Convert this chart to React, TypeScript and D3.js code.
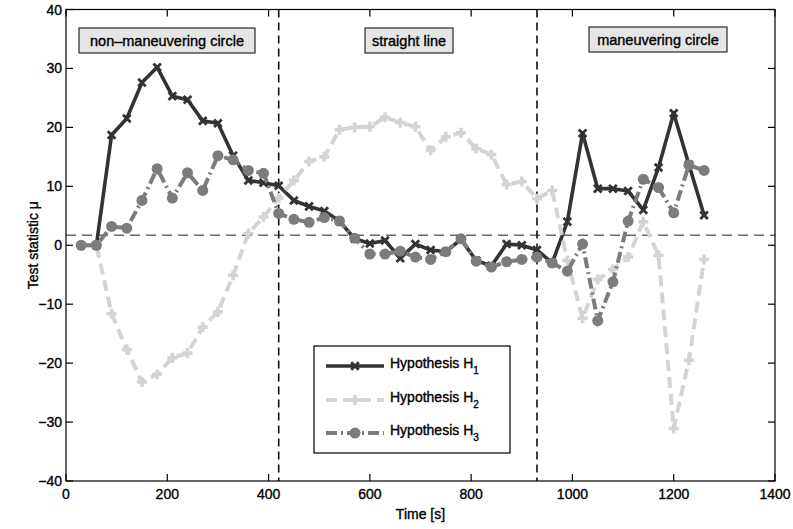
import React from "react";
import * as d3 from "d3";

const times1 = [60,90,120,150,180,210,240,270,300,330,360,390,420,450,480,510,540,570,600,630,660,690,720,750,780,810,840,870,900,930,960,990,1020,1050,1080,1110,1140,1170,1200,1230,1260];
const h1 = [0,18.7,21.5,27.6,30.2,25.3,24.7,21.1,20.7,15.2,11.0,10.6,10.1,7.6,6.6,5.8,4.1,1.1,0.3,0.8,-2.2,0.2,-0.8,-1.1,1.0,-2.6,-3.5,0.2,0.0,-0.8,-3.0,4.0,19.0,9.6,9.6,9.2,6.0,13.2,22.4,13.7,5.1];

const times23 = [30,60,90,120,150,180,210,240,270,300,330,360,390,420,450,480,510,540,570,600,630,660,690,720,750,780,810,840,870,900,930,960,990,1020,1050,1080,1110,1140,1170,1200,1230,1260];
const h2 = [0,0,-11.6,-17.7,-23.2,-21.9,-19.1,-18.3,-13.9,-11.3,-5.1,2.0,4.8,8.0,11.0,14.2,15.0,19.6,20.0,20.1,21.7,20.8,20.1,16.1,18.4,19.1,16.4,15.4,10.3,10.8,7.9,9.3,-2.6,-12.4,-5.8,-4.1,-2.0,4.0,-1.7,-31.1,-19.5,-2.4];
const h3 = [0,0,3.2,2.9,7.6,13.0,8.0,12.3,9.3,15.2,14.5,12.7,12.2,5.4,4.4,3.9,4.7,4.1,1.2,-1.5,-1.5,-1.0,-2.0,-2.4,-1.1,1.1,-2.7,-3.7,-2.8,-2.4,-2.0,-3.0,-4.4,0.2,-12.8,-6.2,4.1,11.2,9.8,5.5,13.6,12.7];

const xTicks = [0,200,400,600,800,1000,1200,1400];
const yTicks = [-40,-30,-20,-10,0,10,20,30,40];
const threshold = 1.7;
const phaseBounds = [420, 930];
const phaseLabels = ["non\u2013maneuvering circle", "straight line", "maneuvering circle"];
const legendLabels = ["Hypothesis H", "Hypothesis H", "Hypothesis H"];
const legendSubs = ["1", "2", "3"];

const W = 793, H = 529;
const L = 66, R = 775, T = 9.5, B = 481;
const FONT = "'Liberation Sans', Arial, Helvetica, sans-serif";

export default function App() {
  const x = d3.scaleLinear().domain([0, 1400]).range([L, R]);
  const y = d3.scaleLinear().domain([-40, 40]).range([B, T]);
  const line = d3.line<[number, number]>().x(d => x(d[0])).y(d => y(d[1]));
  const p1 = times1.map((t, i) => [t, h1[i]] as [number, number]);
  const p2 = times23.map((t, i) => [t, h2[i]] as [number, number]);
  const p3 = times23.map((t, i) => [t, h3[i]] as [number, number]);

  const c1 = "#333333", c2 = "#d4d4d4", c3 = "#7c7c7c";

  const xMark = (cx: number, cy: number, k: string, col: string, s = 3.8) => (
    <g key={k} stroke={col} strokeWidth={2.8}>
      <line x1={cx - s} y1={cy - s} x2={cx + s} y2={cy + s} />
      <line x1={cx - s} y1={cy + s} x2={cx + s} y2={cy - s} />
    </g>
  );
  const plusMark = (cx: number, cy: number, k: string, col: string, s = 5) => (
    <g key={k} stroke={col} strokeWidth={3.6}>
      <line x1={cx - s} y1={cy} x2={cx + s} y2={cy} />
      <line x1={cx} y1={cy - s} x2={cx} y2={cy + s} />
    </g>
  );

  const boxX = [79, 365, 589];
  const boxY = [28, 28, 27];
  const boxW = [176, 88, 138];

  const legX = 314, legY = 346, legW = 196, legH = 107;
  const legRows = [366, 400, 433];
  const txt = { fill: "#000", stroke: "#000", strokeWidth: 0.35 };

  return (
    <svg width={W} height={H} style={{ position: "absolute", left: 0, top: 0, background: "#fff" }} fontFamily={FONT}>
      <defs>
        <clipPath id="plotclip">
          <rect x={L} y={T} width={R - L} height={B - T} />
        </clipPath>
      </defs>
      <rect x={0} y={0} width={W} height={H} fill="#fff" />

      <line x1={L} x2={R} y1={y(threshold)} y2={y(threshold)} stroke="#666" strokeWidth={1.6} strokeDasharray="10,6" />
      {phaseBounds.map((b, i) => (
        <line key={"vb" + i} x1={x(b)} x2={x(b)} y1={T} y2={B} stroke="#111" strokeWidth={1.6} strokeDasharray="8,5" />
      ))}

      <g clipPath="url(#plotclip)">
        <path d={line(p1) || ""} fill="none" stroke={c1} strokeWidth={3.6} strokeLinejoin="round" />
        {p1.map((d, i) => xMark(x(d[0]), y(d[1]), "m1" + i, c1))}
        <path d={line(p2) || ""} fill="none" stroke={c2} strokeWidth={4} strokeDasharray="11,6" />
        {p2.map((d, i) => plusMark(x(d[0]), y(d[1]), "m2" + i, c2))}
        <path d={line(p3) || ""} fill="none" stroke={c3} strokeWidth={4} strokeDasharray="11,4,2,4" />
        {p3.map((d, i) => (
          <circle key={"m3" + i} cx={x(d[0])} cy={y(d[1])} r={5.5} fill={c3} />
        ))}
      </g>

      {phaseLabels.map((lab, i) => (
        <g key={"pl" + i}>
          <rect x={boxX[i]} y={boxY[i]} width={boxW[i]} height={25} fill="#e5e5e5" stroke="#000" strokeWidth={1} />
          <text x={boxX[i] + boxW[i] / 2} y={boxY[i] + 17.5} textAnchor="middle" fontSize={14.5} {...txt}>{lab}</text>
        </g>
      ))}

      <rect x={L} y={T} width={R - L} height={B - T} fill="none" stroke="#000" strokeWidth={1.2} />
      {xTicks.map((t, i) => (
        <g key={"xt" + i}>
          <line x1={x(t)} x2={x(t)} y1={B} y2={B - 7} stroke="#000" strokeWidth={1.2} />
          <line x1={x(t)} x2={x(t)} y1={T} y2={T + 7} stroke="#000" strokeWidth={1.2} />
          <text x={x(t)} y={B + 18} textAnchor="middle" fontSize={14} {...txt}>{t}</text>
        </g>
      ))}
      {yTicks.map((t, i) => (
        <g key={"yt" + i}>
          <line x1={L} x2={L + 7} y1={y(t)} y2={y(t)} stroke="#000" strokeWidth={1.2} />
          <line x1={R} x2={R - 7} y1={y(t)} y2={y(t)} stroke="#000" strokeWidth={1.2} />
          <text x={L - 4} y={y(t) + 5} textAnchor="end" fontSize={14} {...txt}>{t < 0 ? "\u2212" + Math.abs(t) : t}</text>
        </g>
      ))}
      <text x={(L + R) / 2} y={519} textAnchor="middle" fontSize={14} {...txt}>Time [s]</text>
      <text transform={`translate(38, ${(T + B) / 2}) rotate(-90)`} textAnchor="middle" fontSize={14} {...txt}>Test statistic {"\u03bc"}</text>

      <rect x={legX} y={legY} width={legW} height={legH} fill="#fff" stroke="#000" strokeWidth={1.2} />
      <line x1={326} x2={384} y1={legRows[0]} y2={legRows[0]} stroke={c1} strokeWidth={3.6} />
      {xMark(355, legRows[0], "lg1", c1)}
      <line x1={326} x2={384} y1={legRows[1]} y2={legRows[1]} stroke={c2} strokeWidth={4} strokeDasharray="11,6" />
      {plusMark(355, legRows[1], "lg2", c2)}
      <line x1={326} x2={384} y1={legRows[2]} y2={legRows[2]} stroke={c3} strokeWidth={4} strokeDasharray="11,4,2,4" />
      <circle cx={355} cy={legRows[2]} r={5.5} fill={c3} />
      {legendLabels.map((lab, i) => (
        <text key={"lt" + i} x={390} y={legRows[i] + 2} fontSize={14} {...txt}>
          {lab}
          <tspan dy={6} fontSize={10}>{legendSubs[i]}</tspan>
        </text>
      ))}
    </svg>
  );
}
